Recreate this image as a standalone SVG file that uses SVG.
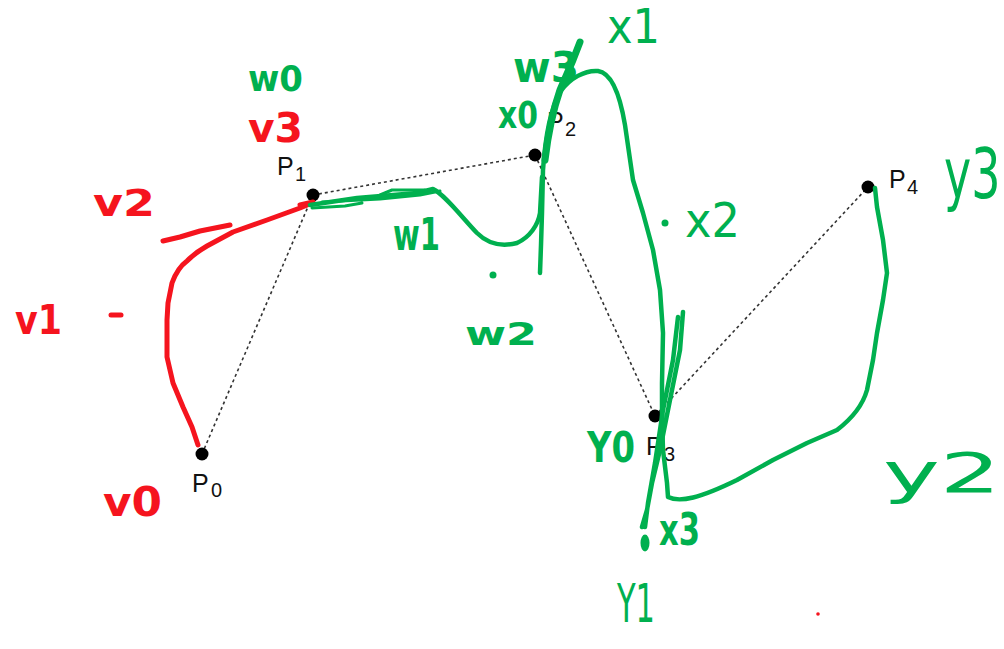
<svg xmlns="http://www.w3.org/2000/svg" width="1004" height="649" viewBox="0 0 1004 649">
<style>
.dot{fill:#000}
.plab{font-family:"Liberation Sans",Arial,sans-serif;font-size:25px;fill:#111}
.sub{font-size:20px}
.conn{stroke:#333;stroke-width:1.6;stroke-dasharray:3 3;fill:none}
.red{stroke:#f5141e;stroke-width:5;fill:none;stroke-linecap:round;stroke-linejoin:round}
.grn{stroke:#00b04f;stroke-width:4.5;fill:none;stroke-linecap:round;stroke-linejoin:round}
.thin{stroke-width:3}
.hr{font-family:"DejaVu Sans",sans-serif;font-weight:bold;fill:#f5141e}
.hg{font-family:"DejaVu Sans",sans-serif;font-weight:bold;fill:#00b04f}
.lt{font-weight:normal}
</style>
<rect width="1004" height="649" fill="#fff"/>
<g id="connectors">
<line class="conn" x1="202" y1="454" x2="313" y2="195"/>
<line class="conn" x1="313" y1="195" x2="535" y2="155"/>
<line class="conn" x1="535" y1="155" x2="655" y2="416"/>
<line class="conn" x1="655" y1="416" x2="868" y2="187"/>
</g>
<g id="P0"><circle class="dot" cx="202" cy="454" r="6.5"/><text class="plab" x="192" y="492">P</text><text class="plab sub" x="211" y="497">0</text></g>
<g id="P1"><circle class="dot" cx="313" cy="195" r="6.5"/><text class="plab" x="277" y="175">P</text><text class="plab sub" x="295" y="181">1</text></g>
<g id="P2"><circle class="dot" cx="535" cy="155" r="6.5"/><text class="plab" x="547" y="130">P</text><text class="plab sub" x="565" y="136">2</text></g>
<g id="P3"><circle class="dot" cx="655" cy="416" r="6.5"/><text class="plab" x="646" y="455">P</text><text class="plab sub" x="664" y="461">3</text></g>
<g id="P4"><circle class="dot" cx="868" cy="187" r="6.5"/><text class="plab" x="889" y="188">P</text><text class="plab sub" x="907" y="194">4</text></g>
<g id="red-strokes">
<path class="red" d="M198,445 L192,427 L183,407 L173,383 L167,357 L167,320 L168,303 L172,283 C176,272 180,266 187,261 C195,253 200,250 207,246 L233,232 L267,220 L300,208 L312,203"/>
<path class="red" d="M163,241 L180,237 L200,231 L230,225"/>
<path class="red" d="M300,205 L313,202"/>
<path class="red" d="M111,315 L121,315"/>
<circle cx="818" cy="614" r="1.8" fill="#f5141e"/>
</g>
<g id="green-strokes">
<path class="grn" d="M310,205 L357,198 L417,193 L433,189 C445,195 460,215 477,233 C490,246 505,246 517,243 C530,237 538,225 540,213 L542,177"/>
<path class="grn thin" d="M312,208 L345,206 L362,203 M322,202 L380,199 L420,195 L440,191 M380,195 L392,190 L425,190"/>
<path class="grn" d="M540,273 L541,245 L542,213 L543,170 C545,140 550,110 560,92 C570,78 585,70 598,71 C612,73 620,95 625,125 L633,180 L643,213 L653,250 L660,290 L663,333 L662,383 L662,417 L663,450 L667,483 L668,497 C680,503 700,498 737,480 L773,460 L807,443 L837,430 C850,420 862,408 867,390 L873,360 L877,333 L883,300 L887,273 L883,240 L877,207 L875,188"/>
<path class="grn" style="stroke-width:7" d="M545,160 C548,135 553,110 560,90 L573,60 L580,42"/>
<path class="grn" d="M683,312 L680,350 L670,400 L660,450 L652,483 L647,510 L642,527 M678,317 L673,360 L663,410 L655,463 L648,503 L645,527"/>
<ellipse cx="645" cy="543" rx="4.5" ry="8.5" fill="#00b04f"/>
<circle cx="493" cy="275" r="3.5" fill="#00b04f"/>
<circle cx="665" cy="223" r="3.5" fill="#00b04f"/>
</g>
<g id="labels">
<text class="hr" x="103" y="516" font-size="40" textLength="59" lengthAdjust="spacingAndGlyphs">v0</text>
<text class="hr" x="15" y="334" font-size="40" textLength="47" lengthAdjust="spacingAndGlyphs">v1</text>
<text class="hr" x="93" y="216" font-size="38" textLength="62" lengthAdjust="spacingAndGlyphs">v2</text>
<text class="hr" x="248" y="142" font-size="40" textLength="55" lengthAdjust="spacingAndGlyphs">v3</text>
<text class="hg" x="248" y="91" font-size="36" textLength="55" lengthAdjust="spacingAndGlyphs">w0</text>
<text class="hg" x="393" y="250" font-size="44" textLength="47" lengthAdjust="spacingAndGlyphs">w1</text>
<text class="hg" x="465" y="345" font-size="32" textLength="72" lengthAdjust="spacingAndGlyphs">w2</text>
<text class="hg" x="513" y="82" font-size="42" textLength="66" lengthAdjust="spacingAndGlyphs">w3</text>
<text class="hg" x="498" y="128" font-size="38" textLength="40" lengthAdjust="spacingAndGlyphs">x0</text>
<text class="hg lt" x="607" y="43" font-size="48" textLength="53" lengthAdjust="spacingAndGlyphs">x1</text>
<text class="hg lt" x="685" y="237" font-size="48" textLength="55" lengthAdjust="spacingAndGlyphs">x2</text>
<text class="hg" x="659" y="545" font-size="44" textLength="41" lengthAdjust="spacingAndGlyphs">x3</text>
<text class="hg" x="587" y="462" font-size="42" textLength="48" lengthAdjust="spacingAndGlyphs">Y0</text>
<text class="hg lt" x="617" y="622" font-size="54" textLength="38" lengthAdjust="spacingAndGlyphs">Y1</text>
<text class="hg lt" x="883" y="492" font-size="56" textLength="118" lengthAdjust="spacingAndGlyphs">y2</text>
<text class="hg lt" transform="translate(944,198) scale(1,1.5)" font-size="46">y3</text>
</g>
</svg>
